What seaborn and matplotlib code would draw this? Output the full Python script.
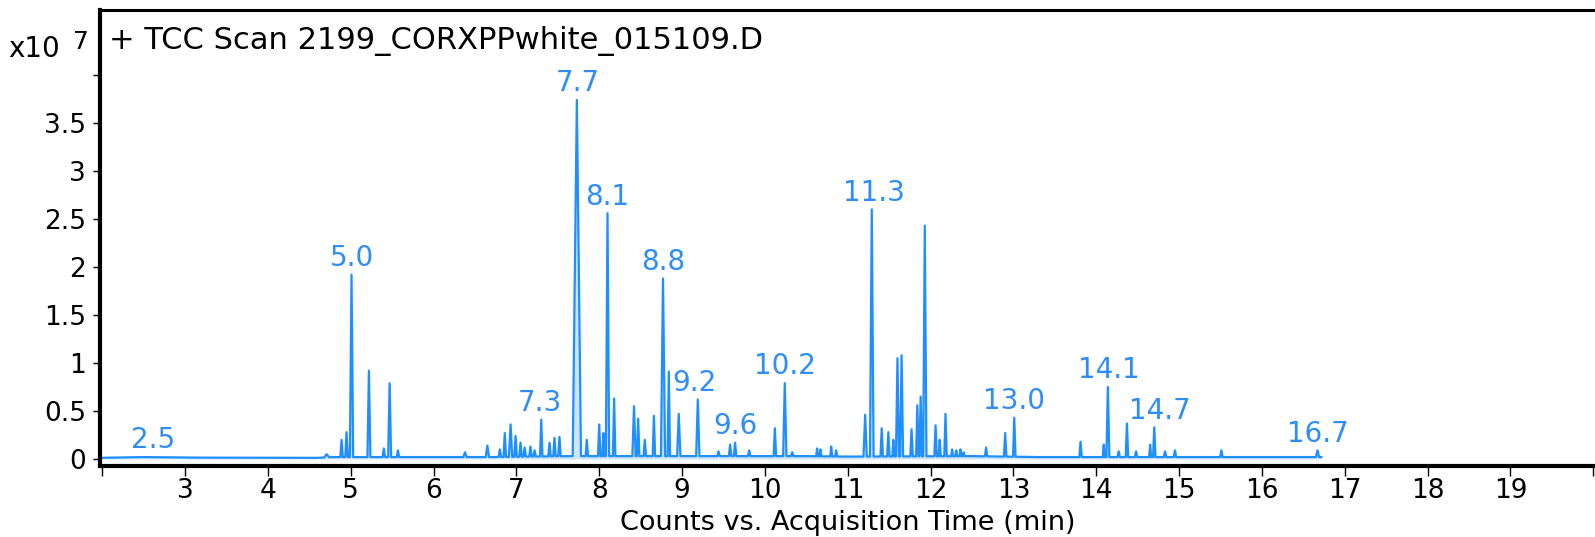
import numpy as np
import pandas as pd
import matplotlib
matplotlib.use("Agg")
import matplotlib.pyplot as plt
import seaborn as sns

# ---------------- data (intensity in units of 1e7 counts) ----------------
peak_times = [4.71, 4.89, 4.95, 5.01, 5.22, 5.40, 5.47, 5.57, 6.38, 6.65,
              6.80, 6.86, 6.93, 6.99, 7.05, 7.10, 7.17, 7.22, 7.30, 7.40,
              7.46, 7.52, 7.73, 7.85, 8.00, 8.05, 8.10, 8.18, 8.42, 8.47,
              8.55, 8.66, 8.77, 8.84, 8.96, 9.19, 9.44, 9.58, 9.64, 9.81,
              10.12, 10.24, 10.33, 10.63, 10.67, 10.80, 10.86, 11.21, 11.29, 11.41,
              11.49, 11.55, 11.60, 11.65, 11.77, 11.84, 11.88, 11.93, 12.06, 12.11,
              12.18, 12.26, 12.31, 12.36, 12.40, 12.67, 12.90, 13.01, 13.81, 14.09,
              14.14, 14.27, 14.37, 14.48, 14.65, 14.70, 14.83, 14.95, 15.51, 16.67]
peak_heights = [0.05, 0.20, 0.28, 1.92, 0.92, 0.11, 0.79, 0.09, 0.07, 0.14,
                0.10, 0.27, 0.36, 0.24, 0.17, 0.12, 0.13, 0.09, 0.41, 0.17,
                0.22, 0.23, 3.74, 0.20, 0.36, 0.27, 2.56, 0.63, 0.55, 0.42,
                0.20, 0.45, 1.88, 0.91, 0.47, 0.62, 0.08, 0.15, 0.17, 0.09,
                0.32, 0.79, 0.07, 0.11, 0.10, 0.13, 0.09, 0.46, 2.60, 0.32,
                0.28, 0.20, 1.05, 1.08, 0.31, 0.56, 0.65, 2.43, 0.35, 0.20,
                0.47, 0.10, 0.09, 0.10, 0.07, 0.12, 0.27, 0.43, 0.18, 0.15,
                0.75, 0.08, 0.37, 0.08, 0.15, 0.33, 0.08, 0.09, 0.09, 0.09]
peak_halfwidths = [0.03, 0.015, 0.015, 0.02, 0.018, 0.015, 0.018, 0.015, 0.02, 0.02,
                   0.015, 0.015, 0.02, 0.015, 0.015, 0.015, 0.015, 0.015, 0.015, 0.015,
                   0.015, 0.015, 0.05, 0.015, 0.015, 0.012, 0.02, 0.015, 0.02, 0.015,
                   0.015, 0.015, 0.025, 0.015, 0.02, 0.02, 0.015, 0.015, 0.015, 0.015,
                   0.015, 0.02, 0.015, 0.012, 0.012, 0.012, 0.012, 0.02, 0.022, 0.015,
                   0.015, 0.012, 0.018, 0.018, 0.015, 0.015, 0.015, 0.02, 0.015, 0.012,
                   0.015, 0.012, 0.012, 0.012, 0.012, 0.015, 0.015, 0.015, 0.015, 0.012,
                   0.018, 0.015, 0.015, 0.015, 0.012, 0.015, 0.015, 0.015, 0.015, 0.02]

baseline_times = [1.97, 2.5, 3.2, 4.6, 4.8, 6.7, 7.6, 10.5, 11.0, 12.5, 13.3, 16.72]
baseline_levels = [0.012, 0.02, 0.014, 0.012, 0.02, 0.02, 0.03, 0.03, 0.025, 0.03, 0.02, 0.02]

label_texts = ["2.5", "5.0", "7.3", "7.7", "8.1", "8.8", "9.2", "9.6",
               "10.2", "11.3", "13.0", "14.1", "14.7", "16.7"]
label_times = [2.62, 5.01, 7.28, 7.74, 8.10, 8.77, 9.15, 9.64,
               10.24, 11.32, 13.01, 14.15, 14.77, 16.67]
label_levels = [0.02, 1.92, 0.41, 3.74, 2.56, 1.88, 0.62, 0.17,
                0.79, 2.60, 0.43, 0.75, 0.33, 0.09]

x_ticks = list(range(2, 21))
x_ticklabels = [""] + [str(v) for v in range(3, 20)] + [""]
y_ticks = [0, 0.5, 1, 1.5, 2, 2.5, 3, 3.5, 4]
y_ticklabels = ["0", "0.5", "1", "1.5", "2", "2.5", "3", "3.5", ""]

title_text = "+ TCC Scan 2199_CORXPPwhite_015109.D"
x_label = "Counts vs. Acquisition Time (min)"

# ---------------- build trace ----------------
pt = np.array(peak_times)
ph = np.array(peak_heights)
pw = np.array(peak_halfwidths)
foot_l = np.interp(pt - pw, baseline_times, baseline_levels)
foot_r = np.interp(pt + pw, baseline_times, baseline_levels)
tx = np.concatenate([baseline_times, pt - pw, pt, pt + pw])
ty = np.concatenate([baseline_levels, foot_l, ph, foot_r])
order = np.argsort(tx, kind="stable")
trace = pd.DataFrame({"time": tx[order], "counts": ty[order]})

# ---------------- plot ----------------
sns.set_style("white")
plt.rcParams["font.family"] = ["DejaVu Sans"]
plt.rcParams["text.color"] = "black"
plt.rcParams["axes.labelcolor"] = "black"

line_color = "#1f8fff"
text_color = "#2e8ef6"

fig = plt.figure(figsize=(15.95, 5.37), dpi=100)
ax = fig.add_axes([100 / 1595, 71 / 537, 1495 / 1595, 456 / 537])

ax.fill_between(trace["time"], trace["counts"], 0, color=line_color, alpha=0.22, lw=0)
sns.lineplot(data=trace, x="time", y="counts", estimator=None, sort=False,
             color=line_color, lw=1.6, ax=ax)

for txt, lt, lv in zip(label_texts, label_times, label_levels):
    ax.annotate(txt, xy=(lt, lv), xytext=(0, 12), textcoords="offset points",
                ha="center", va="center", fontsize=20, color=text_color)

ax.set_xlim(1.974, 20.02)
ax.set_ylim(-0.073, 4.677)
ax.set_xticks(x_ticks)
ax.set_xticklabels(x_ticklabels)
ax.set_yticks(y_ticks)
ax.set_yticklabels(y_ticklabels)
ax.tick_params(axis="x", direction="out", length=7, width=1.0, pad=2,
               labelsize=19, colors="black", bottom=True)
ax.tick_params(axis="y", direction="out", length=5, width=1.0, pad=5,
               labelsize=19, colors="black", left=True)

for side in ["left", "bottom"]:
    ax.spines[side].set_linewidth(3.0)
    ax.spines[side].set_color("black")
ax.spines["top"].set_linewidth(2.2)
ax.spines["top"].set_color("black")
ax.spines["right"].set_visible(False)

ax.set_xlabel(x_label, fontsize=19.5, color="black")
ax.xaxis.set_label_coords(0.5, -0.124)
ax.xaxis.label.set_va("center")
ax.set_ylabel("")

fig.text(109 / 1595, 1 - 41 / 537, title_text, fontsize=22, ha="left", va="center",
         color="black")
fig.text(8 / 1595, 1 - 49 / 537, "x10", fontsize=20, ha="left", va="center", color="black")
fig.text(73 / 1595, 1 - 42 / 537, "7", fontsize=18, ha="left", va="center", color="black")

fig.savefig("out.png", dpi=100)
